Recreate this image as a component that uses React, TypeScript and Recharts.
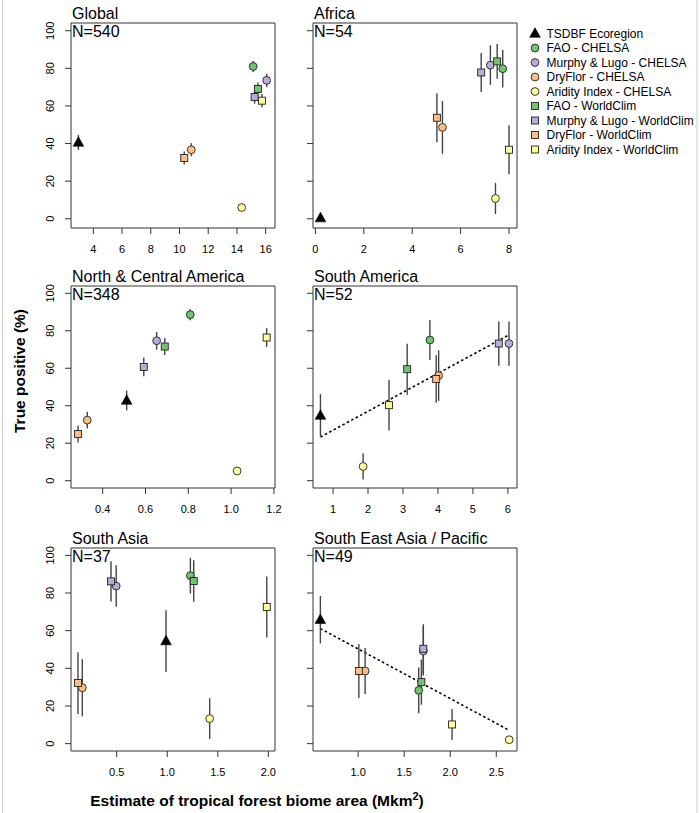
import React from 'react';
import { ScatterChart, Scatter, XAxis, YAxis, ErrorBar, ReferenceArea, ReferenceLine } from 'recharts';

const FONT = '"Liberation Sans", Arial, Helvetica, sans-serif';

// ---------- categories ----------
const methods = [
  'TSDBF Ecoregion',
  'FAO - CHELSA',
  'Murphy & Lugo - CHELSA',
  'DryFlor - CHELSA',
  'Aridity Index - CHELSA',
  'FAO - WorldClim',
  'Murphy & Lugo - WorldClim',
  'DryFlor - WorldClim',
  'Aridity Index - WorldClim',
];
const methodShapes = ['triangle', 'circle', 'circle', 'circle', 'circle', 'square', 'square', 'square', 'square'];
const methodColors = ['#000000', '#72c273', '#bcaad8', '#fdbe82', '#ffff99', '#72c273', '#bcaad8', '#fdbe82', '#ffff99'];

const regions = ['Global', 'Africa', 'North & Central America', 'South America', 'South Asia', 'South East Asia / Pacific'];
const sampleSizes = [540, 54, 348, 52, 37, 49];

// ---------- values (area in Mkm², true positive %, error ±) ----------
const globalArea = [2.96, 15.13, 16.07, 10.82, 14.33, 15.46, 15.23, 10.33, 15.74];
const globalTP = [40.6, 81.0, 73.6, 36.7, 6.0, 69.0, 64.7, 32.3, 62.8];
const globalErr = [4, 3, 3.5, 3.5, 1.5, 3.5, 3.5, 3.5, 3.5];

const africaArea = [0.21, 7.74, 7.23, 5.25, 7.44, 7.51, 6.85, 5.02, 8.0];
const africaTP = [0.4, 79.8, 81.7, 48.6, 10.8, 83.7, 77.8, 53.7, 36.7];
const africaErr = [0, 10, 10.5, 14, 8.3, 9.2, 10.4, 13, 13];

const ncAmericaArea = [0.512, 0.809, 0.652, 0.328, 1.028, 0.69, 0.592, 0.285, 1.166];
const ncAmericaTP = [42.8, 88.6, 74.7, 32.3, 5.2, 71.6, 60.7, 24.9, 76.4];
const ncAmericaErr = [5.3, 3, 4.7, 4.5, 1.5, 4.5, 5, 4.5, 5];

const sAmericaArea = [0.64, 3.77, 6.03, 4.02, 1.86, 3.12, 5.74, 3.95, 2.6];
const sAmericaTP = [34.8, 75.1, 73.2, 56.1, 7.6, 59.5, 73.2, 54.3, 40.3];
const sAmericaErr = [11.4, 10.7, 11.8, 13.5, 7, 13.6, 11.8, 12.7, 13.5];

const sAsiaArea = [0.988, 1.229, 0.495, 0.16, 1.42, 1.262, 0.444, 0.117, 1.985];
const sAsiaTP = [54.5, 89.2, 83.7, 29.7, 13.3, 86.4, 86.2, 32.2, 72.6];
const sAsiaErr = [16.4, 9.5, 11, 15.2, 10.8, 11, 10.7, 16.4, 16.2];

const seAsiaArea = [0.59, 1.658, 1.708, 1.076, 2.64, 1.687, 1.708, 1.008, 2.02];
const seAsiaTP = [65.8, 28.3, 49.2, 38.6, 2.1, 32.7, 50.4, 38.6, 10.2];
const seAsiaErr = [12.6, 12.2, 13, 12.2, 0, 12, 13, 14.3, 8.2];

// trend lines (start / end points)
const sAmericaTrend = [{ x: 0.64, y: 23.3 }, { x: 6.03, y: 77.8 }];
const seAsiaTrend = [{ x: 0.59, y: 61.1 }, { x: 2.64, y: 7.1 }];

// ---------- ticks ----------
const yTicks = [0, 20, 40, 60, 80, 100];
const globalXTicks = [4, 6, 8, 10, 12, 14, 16];
const africaXTicks = [0, 2, 4, 6, 8];
const ncAmericaXTicks = [0.4, 0.6, 0.8, 1.0, 1.2];
const sAmericaXTicks = [1, 2, 3, 4, 5, 6];
const sAsiaXTicks = [0.5, 1.0, 1.5, 2.0];
const seAsiaXTicks = [1.0, 1.5, 2.0, 2.5];

// ---------- layout ----------
type Panel = {
  area: number[]; tp: number[]; err: number[];
  xTicks: number[]; decimals: number;
  xDomain: [number, number]; yDomain: [number, number];
  box: { L: number; T: number; R: number; B: number };
  left: boolean; trend?: { x: number; y: number }[];
};

const panels: Panel[] = [
  { area: globalArea, tp: globalTP, err: globalErr, xTicks: globalXTicks, decimals: 0,
    xDomain: [2.445, 16.65], yDomain: [-4.9, 104.1], box: { L: 71, T: 23, R: 275, B: 228 }, left: true },
  { area: africaArea, tp: africaTP, err: africaErr, xTicks: africaXTicks, decimals: 0,
    xDomain: [-0.1, 8.33], yDomain: [-4.9, 104.1], box: { L: 313, T: 23, R: 517, B: 228 }, left: false },
  { area: ncAmericaArea, tp: ncAmericaTP, err: ncAmericaErr, xTicks: ncAmericaXTicks, decimals: 1,
    xDomain: [0.252, 1.205], yDomain: [-3.9, 103.9], box: { L: 71, T: 286, R: 275, B: 488 }, left: true },
  { area: sAmericaArea, tp: sAmericaTP, err: sAmericaErr, xTicks: sAmericaXTicks, decimals: 0,
    xDomain: [0.427, 6.26], yDomain: [-3.9, 103.9], box: { L: 313, T: 286, R: 517, B: 488 }, left: false, trend: sAmericaTrend },
  { area: sAsiaArea, tp: sAsiaTP, err: sAsiaErr, xTicks: sAsiaXTicks, decimals: 1,
    xDomain: [0.048, 2.066], yDomain: [-3.9, 103.9], box: { L: 71, T: 548, R: 275, B: 751 }, left: true },
  { area: seAsiaArea, tp: seAsiaTP, err: seAsiaErr, xTicks: seAsiaXTicks, decimals: 1,
    xDomain: [0.51, 2.725], yDomain: [-3.9, 103.9], box: { L: 313, T: 548, R: 517, B: 751 }, left: false, trend: seAsiaTrend },
];

const AXIS_COLOR = '#333333';
const RIGHT_PAD = 16;

function drawSymbol(kind: string, fill: string, cx: number, cy: number, key?: string) {
  if (kind === 'triangle') {
    const h = 9.5, w = 10.6;
    const pts = `${cx},${cy - h * 0.6} ${cx - w / 2},${cy + h * 0.4} ${cx + w / 2},${cy + h * 0.4}`;
    return <polygon key={key} points={pts} fill="#000" stroke="#000" strokeWidth={0.6} />;
  }
  if (kind === 'circle') {
    return <circle key={key} cx={cx} cy={cy} r={3.9} fill={fill} stroke="#222" strokeWidth={0.9} />;
  }
  return <rect key={key} x={cx - 3.5} y={cy - 3.5} width={7} height={7} fill={fill} stroke="#222" strokeWidth={0.9} />;
}

const makeShape = (kind: string, fill: string) => (props: any) => {
  const { cx, cy } = props;
  if (cx == null || cy == null) return <g />;
  return drawSymbol(kind, fill, cx, cy);
};

const makeXTick = (decimals: number) => (props: any) => {
  const { x, y, payload } = props;
  return (
    <text x={x} y={y + 16.5} textAnchor="middle" fontSize={11} fontFamily={FONT} fill="#000">
      {Number(payload.value).toFixed(decimals)}
    </text>
  );
};

const YTickLabel = (props: any) => {
  const { x, y, payload } = props;
  const bx = x - 8.5;
  return (
    <text x={bx} y={y} transform={`rotate(-90 ${bx} ${y})`} textAnchor="middle" fontSize={11} fontFamily={FONT} fill="#000">
      {payload.value}
    </text>
  );
};
const NoTick = () => <g />;

function PanelChart({ p }: { p: Panel }) {
  const { L, T, R, B } = p.box;
  const W = R - L + 40 + RIGHT_PAD;
  const H = B - T + 35;
  return (
    <div style={{ position: 'absolute', left: L - 40, top: T - 5, width: W, height: H }}>
      <ScatterChart width={W} height={H} margin={{ top: 5, right: RIGHT_PAD, bottom: 0, left: 0 }}>
        <XAxis type="number" dataKey="x" domain={p.xDomain} allowDataOverflow ticks={p.xTicks} interval={0}
          axisLine={false} tickSize={6} tickLine={{ stroke: AXIS_COLOR, strokeWidth: 1 }} height={30}
          tick={makeXTick(p.decimals)} />
        <YAxis type="number" dataKey="y" domain={p.yDomain} allowDataOverflow ticks={yTicks} interval={0}
          axisLine={false} tickSize={6} tickLine={{ stroke: AXIS_COLOR, strokeWidth: 1 }} width={40}
          tick={p.left ? YTickLabel : NoTick} />
        <ReferenceArea x1={p.xDomain[0]} x2={p.xDomain[1]} y1={p.yDomain[0]} y2={p.yDomain[1]}
          fill="none" fillOpacity={0} stroke={AXIS_COLOR} strokeWidth={1} ifOverflow="visible" />
        {p.trend && (
          <ReferenceLine segment={p.trend} stroke="#000" strokeWidth={1.6} strokeDasharray="2.5 2.5" ifOverflow="visible" />
        )}
        {methods.map((m, i) => (
          <Scatter key={m} name={m} data={[{ x: p.area[i], y: p.tp[i], err: p.err[i] }]}
            shape={makeShape(methodShapes[i], methodColors[i])} isAnimationActive={false}>
            {p.err[i] > 0 && (
              <ErrorBar dataKey="err" direction="y" width={0} stroke="#444" strokeWidth={1.4} />
            )}
          </Scatter>
        ))}
      </ScatterChart>
    </div>
  );
}

export default function App() {
  return (
    <div style={{ position: 'absolute', left: 0, top: 0, width: 700, height: 813, background: '#fff', fontFamily: FONT }}>
      {panels.map((p, i) => (
        <PanelChart key={regions[i]} p={p} />
      ))}
      <svg width={700} height={813} style={{ position: 'absolute', left: 0, top: 0, pointerEvents: 'none' }}>
        <line x1={2.5} y1={0} x2={2.5} y2={813} stroke="#d0d0d0" strokeWidth={1} />
        <line x1={697} y1={0} x2={697} y2={813} stroke="#d0d0d0" strokeWidth={1} />
        {panels.map((p, i) => (
          <g key={regions[i]} fontFamily={FONT} fontSize={16} fill="#000">
            <text x={p.box.L + 1} y={p.box.T - 3.8}>{regions[i]}</text>
            <text x={p.box.L + 1} y={p.box.T + 13.6}>{`N=${sampleSizes[i]}`}</text>
          </g>
        ))}
        <g fontFamily={FONT} fontSize={12} fill="#000">
          {methods.map((m, i) => {
            const cy = 33.5 + i * 14.5;
            return (
              <g key={m}>
                {drawSymbol(methodShapes[i], methodColors[i], 535, cy)}
                <text x={546.5} y={cy + 4.3}>{m}</text>
              </g>
            );
          })}
        </g>
        <text x={25} y={371} transform="rotate(-90 25 371)" textAnchor="middle" fontFamily={FONT}
          fontWeight="bold" fontSize={15.5} fill="#000">True positive (%)</text>
        <text x={257} y={806} textAnchor="middle" fontFamily={FONT} fontWeight="bold" fontSize={15.5} fill="#000">
          Estimate of tropical forest biome area (Mkm<tspan dy={-6} fontSize={11}>2</tspan><tspan dy={6}>)</tspan>
        </text>
      </svg>
    </div>
  );
}
